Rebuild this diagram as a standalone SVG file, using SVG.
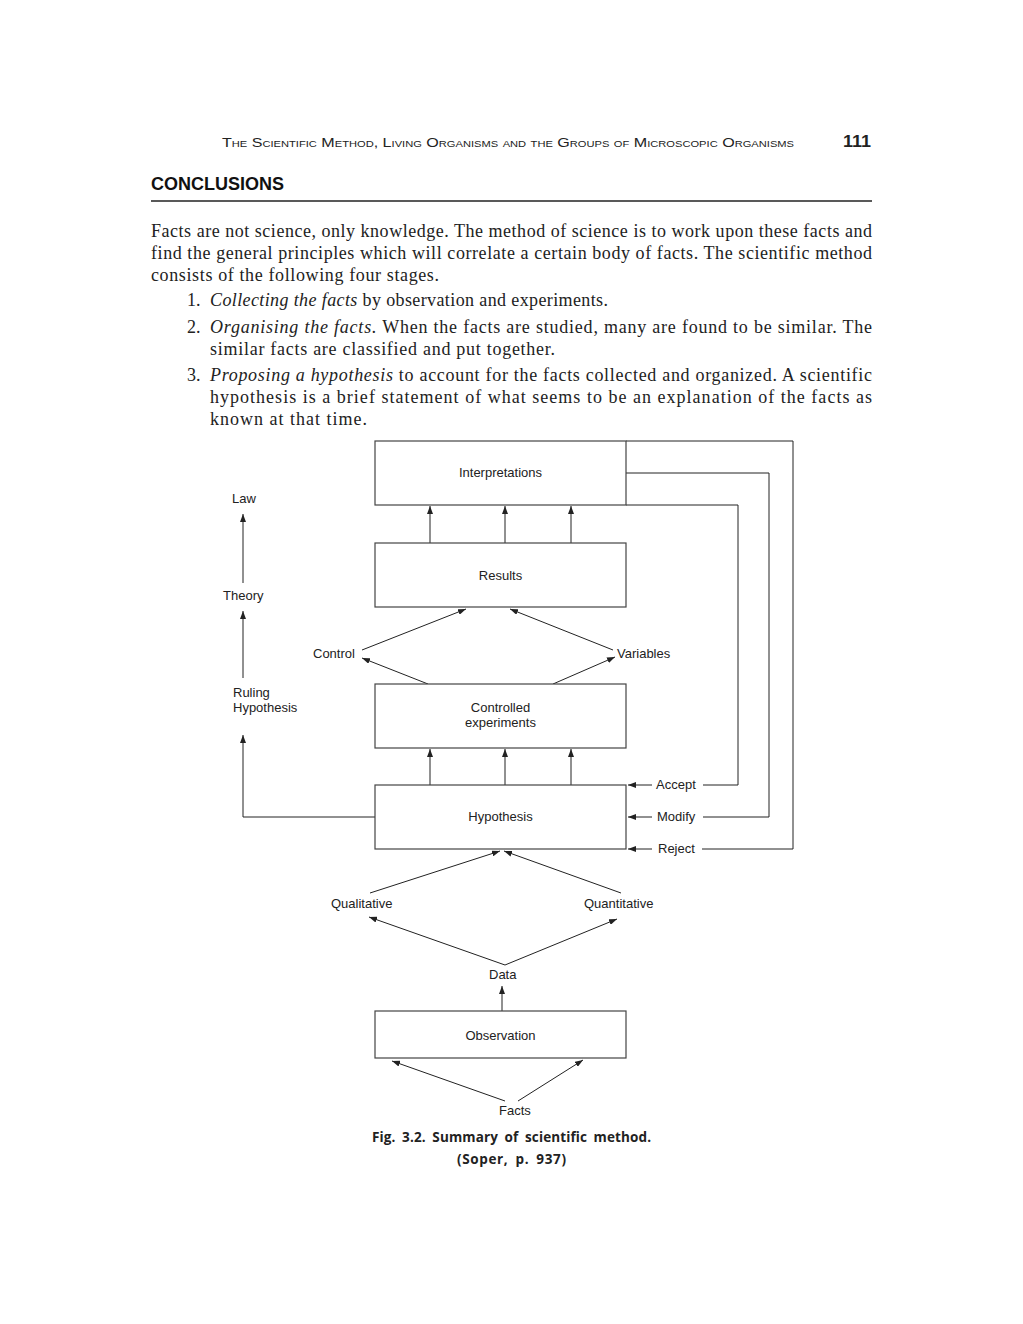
<svg xmlns="http://www.w3.org/2000/svg" width="1023" height="1324" viewBox="0 0 1023 1324">
<style>
.hdr{font-family:"Liberation Sans",Arial,sans-serif;font-size:13px;font-variant:small-caps;fill:#222}
.pg{font-family:"Liberation Sans",Arial,sans-serif;font-size:17px;font-weight:bold;fill:#222}
.h1{font-family:"Liberation Sans",Arial,sans-serif;font-size:18px;font-weight:900;fill:#111}
.body{font-family:"Liberation Serif","Times New Roman",serif;font-size:18px;fill:#222}
.it{font-style:italic}
.lbl{font-family:"Liberation Sans",Arial,sans-serif;font-size:13px;fill:#222}
.cap{font-family:"Open Sans","Liberation Sans",sans-serif;font-size:13.5px;font-weight:bold;fill:#222}
.box{fill:#fff;stroke:#444;stroke-width:1.2}
.ln{fill:none;stroke:#222;stroke-width:1}
</style>
<defs>
<marker id="ah" markerWidth="8" markerHeight="6" refX="8" refY="3" orient="auto" markerUnits="userSpaceOnUse">
<path d="M0,0 L8,3 L0,6 Z" fill="#222"/>
</marker>
</defs>
<rect width="1023" height="1324" fill="#fff"/>

<g id="page-header">
<text class="hdr" x="222" y="147" textLength="572" lengthAdjust="spacingAndGlyphs">The Scientific Method, Living Organisms and the Groups of Microscopic Organisms</text>
<text class="pg" x="843" y="147" textLength="28" lengthAdjust="spacingAndGlyphs">111</text>
<text class="h1" x="151" y="190">CONCLUSIONS</text>
<line x1="151" y1="201" x2="872" y2="201" stroke="#222" stroke-width="1.5"/>
</g>

<g id="body-text">
<text class="body" x="151" y="237" textLength="721" lengthAdjust="spacing">Facts are not science, only knowledge. The method of science is to work upon these facts and</text>
<text class="body" x="151" y="259" textLength="721" lengthAdjust="spacing">find the general principles which will correlate a certain body of facts. The scientific method</text>
<text class="body" x="151" y="281" textLength="288" lengthAdjust="spacing">consists of the following four stages.</text>
<text class="body" x="187" y="306">1.</text>
<text class="body" x="210" y="306" textLength="398" lengthAdjust="spacing"><tspan class="it">Collecting the facts</tspan> by observation and experiments.</text>
<text class="body" x="187" y="333">2.</text>
<text class="body" x="210" y="333" textLength="662" lengthAdjust="spacing"><tspan class="it">Organising the facts.</tspan> When the facts are studied, many are found to be similar. The</text>
<text class="body" x="210" y="355" textLength="345" lengthAdjust="spacing">similar facts are classified and put together.</text>
<text class="body" x="187" y="381">3.</text>
<text class="body" x="210" y="381" textLength="662" lengthAdjust="spacing"><tspan class="it">Proposing a hypothesis</tspan> to account for the facts collected and organized. A scientific</text>
<text class="body" x="210" y="403" textLength="662" lengthAdjust="spacing">hypothesis is a brief statement of what seems to be an explanation of the facts as</text>
<text class="body" x="210" y="425" textLength="157" lengthAdjust="spacing">known at that time.</text>
</g>

<g id="connectors">
<polyline class="ln" points="626,441 793,441 793,849 702,849"/>
<polyline class="ln" points="626,473 769,473 769,817 703,817"/>
<polyline class="ln" points="626,505 738,505 738,785 703,785"/>
<line class="ln" x1="652" y1="785" x2="628" y2="785" marker-end="url(#ah)"/>
<line class="ln" x1="652" y1="817" x2="628" y2="817" marker-end="url(#ah)"/>
<line class="ln" x1="652" y1="849" x2="628" y2="849" marker-end="url(#ah)"/>
<line class="ln" x1="430" y1="543" x2="430" y2="506" marker-end="url(#ah)"/>
<line class="ln" x1="505" y1="543" x2="505" y2="506" marker-end="url(#ah)"/>
<line class="ln" x1="571" y1="543" x2="571" y2="506" marker-end="url(#ah)"/>
<line class="ln" x1="362" y1="650" x2="466" y2="609" marker-end="url(#ah)"/>
<line class="ln" x1="613" y1="650" x2="510" y2="609" marker-end="url(#ah)"/>
<line class="ln" x1="428" y1="684" x2="362" y2="658" marker-end="url(#ah)"/>
<line class="ln" x1="553" y1="684" x2="615" y2="657" marker-end="url(#ah)"/>
<line class="ln" x1="430" y1="785" x2="430" y2="749" marker-end="url(#ah)"/>
<line class="ln" x1="505" y1="785" x2="505" y2="749" marker-end="url(#ah)"/>
<line class="ln" x1="571" y1="785" x2="571" y2="749" marker-end="url(#ah)"/>
<line class="ln" x1="243" y1="583" x2="243" y2="514" marker-end="url(#ah)"/>
<line class="ln" x1="243" y1="678" x2="243" y2="611" marker-end="url(#ah)"/>
<polyline class="ln" points="375,817 243,817 243,735" marker-end="url(#ah)"/>
<line class="ln" x1="370" y1="893" x2="500" y2="851" marker-end="url(#ah)"/>
<line class="ln" x1="621" y1="893" x2="504" y2="851" marker-end="url(#ah)"/>
<line class="ln" x1="505" y1="965" x2="369" y2="917" marker-end="url(#ah)"/>
<line class="ln" x1="505" y1="965" x2="617" y2="919" marker-end="url(#ah)"/>
<line class="ln" x1="502" y1="1011" x2="502" y2="986" marker-end="url(#ah)"/>
<line class="ln" x1="505" y1="1101" x2="392" y2="1061" marker-end="url(#ah)"/>
<line class="ln" x1="518" y1="1101" x2="583" y2="1060" marker-end="url(#ah)"/>
</g>

<g id="interpretations">
<rect class="box" x="375" y="441" width="251" height="64"/>
<text class="lbl" x="500.5" y="477" text-anchor="middle">Interpretations</text>
</g>
<g id="results">
<rect class="box" x="375" y="543" width="251" height="64"/>
<text class="lbl" x="500.5" y="580" text-anchor="middle">Results</text>
</g>
<g id="controlled-experiments">
<rect class="box" x="375" y="684" width="251" height="64"/>
<text class="lbl" x="500.5" y="712" text-anchor="middle">Controlled</text>
<text class="lbl" x="500.5" y="727" text-anchor="middle">experiments</text>
</g>
<g id="hypothesis">
<rect class="box" x="375" y="785" width="251" height="64"/>
<text class="lbl" x="500.5" y="821" text-anchor="middle">Hypothesis</text>
</g>
<g id="observation">
<rect class="box" x="375" y="1011" width="251" height="47"/>
<text class="lbl" x="500.5" y="1040" text-anchor="middle">Observation</text>
</g>

<g id="law"><text class="lbl" x="232" y="503">Law</text></g>
<g id="theory"><text class="lbl" x="223" y="600">Theory</text></g>
<g id="ruling-hypothesis"><text class="lbl" x="233" y="697">Ruling</text><text class="lbl" x="233" y="712">Hypothesis</text></g>
<g id="control"><text class="lbl" x="313" y="658">Control</text></g>
<g id="variables"><text class="lbl" x="617" y="658">Variables</text></g>
<g id="accept"><text class="lbl" x="656" y="789">Accept</text></g>
<g id="modify"><text class="lbl" x="657" y="821">Modify</text></g>
<g id="reject"><text class="lbl" x="658" y="853">Reject</text></g>
<g id="qualitative"><text class="lbl" x="331" y="908">Qualitative</text></g>
<g id="quantitative"><text class="lbl" x="584" y="908">Quantitative</text></g>
<g id="data"><text class="lbl" x="489" y="979">Data</text></g>
<g id="facts"><text class="lbl" x="499" y="1115">Facts</text></g>

<g id="caption">
<text class="cap" x="372" y="1142" textLength="279" lengthAdjust="spacing" style="word-spacing:3px">Fig. 3.2. Summary of scientific method.</text>
<text class="cap" x="457" y="1164" textLength="109" lengthAdjust="spacing" style="word-spacing:3px">(Soper, p. 937)</text>
</g>
</svg>
